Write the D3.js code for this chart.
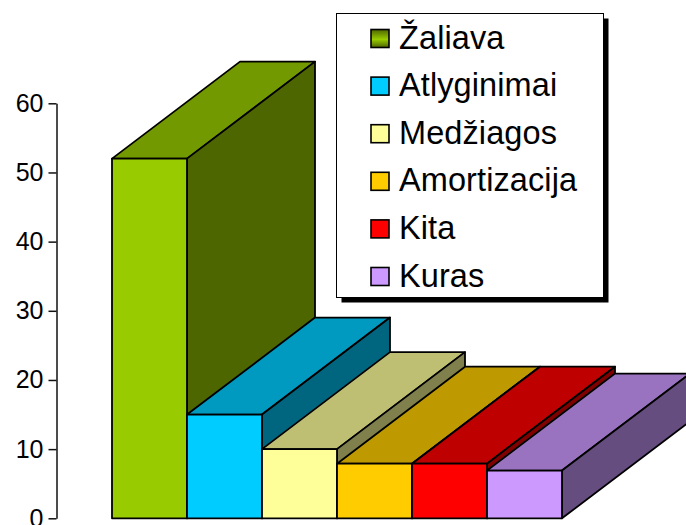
<!DOCTYPE html>
<html>
<head>
<meta charset="utf-8">
<script src="https://cdn.jsdelivr.net/npm/d3@7"></script>
<style>
  html, body { margin: 0; padding: 0; background: #fff; }
  svg { display: block; }
  text { font-family: "Liberation Sans", Arial, sans-serif; fill: #000; }
</style>
</head>
<body>
<div id="chart"></div>
<script>
const categories = ['Žaliava', 'Atlyginimai', 'Medžiagos', 'Amortizacija', 'Kita', 'Kuras'];
const values = [52, 15, 10, 7.9, 7.9, 6.9];
const colors = ['#99cc00', '#00ccff', '#ffff99', '#ffcc00', '#ff0000', '#cc99ff'];
const yTicks = [0, 10, 20, 30, 40, 50, 60];

const width = 686, height = 525;
// how far the 3d depth goes back and up
const depthX = 128, depthY = 97;

const svg = d3.select('#chart').append('svg')
    .attr('width', width)
    .attr('height', height);

const x = d3.scaleBand().domain(categories).range([112, 562]);
const y = d3.scaleLinear().domain([0, 60]).range([518.3, 103.3]);

// multiply a colour down for the top and side faces
function shade(c, k) {
    const r = d3.rgb(c);
    return d3.rgb(r.r * k, r.g * k, r.b * k).formatHex();
}

// first legend swatch has a dark-light-dark fade
const grad = svg.append('defs').append('linearGradient')
    .attr('id', 'swatchFade')
    .attr('x1', 0).attr('y1', 0).attr('x2', 0).attr('y2', 1);
grad.append('stop').attr('offset', '0%').attr('stop-color', shade(colors[0], 0.5));
grad.append('stop').attr('offset', '55%').attr('stop-color', colors[0]);
grad.append('stop').attr('offset', '100%').attr('stop-color', shade(colors[0], 0.5));

const yAxis = d3.axisLeft(y).tickValues(yTicks).tickSize(8).tickPadding(5).tickSizeOuter(0);
const axisG = svg.append('g')
    .attr('transform', 'translate(56.5,0)')
    .call(yAxis);
axisG.selectAll('line, path').attr('stroke', '#111').attr('stroke-width', 1.5);
axisG.selectAll('text').style('font-size', '25px').attr('fill', '#000');

const line = d3.line();

// left to right, later bars sit over the side of earlier ones
const bars = svg.selectAll('g.bar')
    .data(categories.map((c, i) => ({ name: c, value: values[i], color: colors[i] })))
    .enter().append('g')
    .attr('class', 'bar')
    .attr('stroke', '#000')
    .attr('stroke-width', 1.8)
    .attr('stroke-linejoin', 'round');

bars.append('path') // top
    .attr('fill', d => shade(d.color, 0.75))
    .attr('d', d => {
        const x0 = x(d.name), x1 = x0 + x.bandwidth(), t = y(d.value);
        return line([[x0, t], [x1, t], [x1 + depthX, t - depthY], [x0 + depthX, t - depthY]]) + 'Z';
    });

bars.append('path') // side
    .attr('fill', d => shade(d.color, 0.5))
    .attr('d', d => {
        const x1 = x(d.name) + x.bandwidth(), t = y(d.value), b = y(0);
        return line([[x1, t], [x1 + depthX, t - depthY], [x1 + depthX, b - depthY], [x1, b]]) + 'Z';
    });

bars.append('rect') // front
    .attr('fill', d => d.color)
    .attr('x', d => x(d.name))
    .attr('y', d => y(d.value))
    .attr('width', x.bandwidth())
    .attr('height', d => y(0) - y(d.value));

// legend
const legendX = 336.5, legendY = 13.5, legendW = 267, legendH = 284;
const legendRow = d3.scalePoint().domain(categories).range([38.5, 276.5]);

svg.append('rect')
    .attr('x', legendX + 5).attr('y', legendY + 5)
    .attr('width', legendW).attr('height', legendH)
    .attr('fill', '#000');
svg.append('rect')
    .attr('x', legendX).attr('y', legendY)
    .attr('width', legendW).attr('height', legendH)
    .attr('fill', '#fff')
    .attr('stroke', '#000')
    .attr('stroke-width', 1);

const items = svg.selectAll('g.item')
    .data(categories.map((c, i) => ({ name: c, color: colors[i] })))
    .enter().append('g')
    .attr('class', 'item')
    .attr('transform', d => `translate(0,${legendRow(d.name)})`);

items.append('rect')
    .attr('x', 371).attr('y', -9)
    .attr('width', 18).attr('height', 18)
    .attr('fill', (d, i) => i === 0 ? 'url(#swatchFade)' : d.color)
    .attr('stroke', '#000')
    .attr('stroke-width', 1.6);

items.append('text')
    .text(d => d.name)
    .attr('x', 399)
    .attr('y', 10)
    .style('font-size', '32.5px')
    .style('letter-spacing', '0.1px');
</script>
</body>
</html>
